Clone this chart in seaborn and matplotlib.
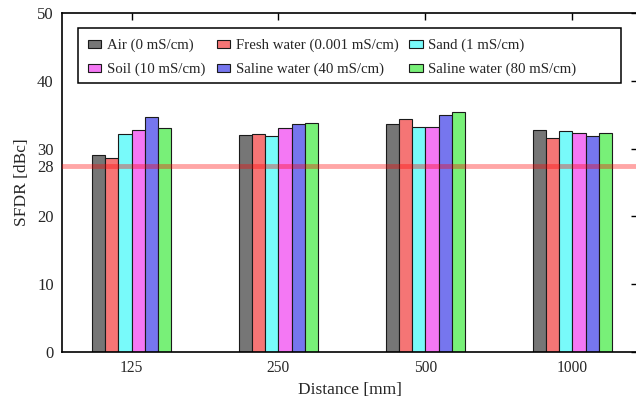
import numpy as np
import pandas as pd
import matplotlib
matplotlib.use("Agg")
import matplotlib.pyplot as plt
import seaborn as sns
from matplotlib.patches import Rectangle

# ---- data ----
distances = ["125", "250", "500", "1000"]
materials = ["Air (0 mS/cm)", "Fresh water (0.001 mS/cm)", "Sand (1 mS/cm)",
             "Soil (10 mS/cm)", "Saline water (40 mS/cm)", "Saline water (80 mS/cm)"]
air = [29.0, 32.0, 33.7, 32.7]
fresh_water = [28.6, 32.1, 34.3, 31.5]
sand = [32.1, 31.9, 33.2, 32.6]
soil = [32.8, 33.1, 33.2, 32.3]
saline_40 = [34.6, 33.6, 34.9, 31.8]
saline_80 = [33.1, 33.8, 35.4, 32.3]
# threshold line as drawn in the picture (labelled "28")
threshold = 27.4
y_ticks = [0, 10, 20, threshold, 30, 40, 50]
y_tick_labels = ["0", "10", "20", "28", "30", "40", "50"]

colors = ["#767676", "#f57575", "#78fafa", "#f478f4", "#7676ee", "#78f078"]

series = [air, fresh_water, sand, soil, saline_40, saline_80]
rows = []
for m, vals in zip(materials, series):
    for d, v in zip(distances, vals):
        rows.append({"Distance": d, "Material": m, "SFDR": v})
df = pd.DataFrame(rows)

sns.set_theme(style="white")
plt.rcParams["font.family"] = ["Liberation Serif", "DejaVu Serif"]

fig = plt.figure(figsize=(6.36, 3.98), dpi=100)
W, H = 636, 398
ax = fig.add_axes([62 / W, 1 - 352 / H, 576 / W, 339 / H])

sns.barplot(data=df, x="Distance", y="SFDR", hue="Material", order=distances,
            hue_order=materials, palette=colors, width=0.537, gap=0,
            edgecolor="#1a1a1a", linewidth=0.8, saturation=1, ax=ax, legend=True)

leg = ax.get_legend()
handles = list(leg.legend_handles)
labels = [t.get_text() for t in leg.get_texts()]
leg.remove()
order = [0, 3, 1, 4, 2, 5]
for h in handles:
    h.set_edgecolor("#1a1a1a")
    h.set_linewidth(0.8)
lg = ax.legend([handles[i] for i in order], [labels[i] for i in order],
               ncol=3, loc="upper left", bbox_to_anchor=(88 / W, 1 - 39 / H),
               bbox_transform=fig.transFigure, frameon=False, fontsize=10.7,
               handlelength=0.88, handleheight=0.42, handletextpad=0.4,
               columnspacing=0.75, labelspacing=0.7, borderpad=0.0, borderaxespad=0)

# legend frame box
fig.add_artist(Rectangle((78 / W, 1 - 83 / H), 543 / W, 55 / H, transform=fig.transFigure,
                         fill=False, edgecolor="black", linewidth=1.1, zorder=5))

ax.axhline(threshold, color="red", alpha=0.35, linewidth=3.5, zorder=4)

ax.set_xlim(-0.473, 3.446)
ax.set_ylim(0, 50)
ax.set_yticks(y_ticks)
ax.set_yticklabels(y_tick_labels)
ax.set_xlabel("Distance [mm]", fontsize=12.5, labelpad=4)
ax.set_ylabel("SFDR [dBc]", fontsize=12.5, labelpad=5)

ax.tick_params(axis="both", direction="in", length=5, width=1.0, color="black",
               pad=6, top=True, right=True)
ax.tick_params(axis="x", bottom=False, top=True, labelsize=11.2)
ax.tick_params(axis="y", labelsize=12)
for i, t in enumerate(ax.yaxis.get_major_ticks()):
    if y_tick_labels[i] == "28":
        t.tick1line.set_visible(False)
        t.tick2line.set_visible(False)

for s in ax.spines.values():
    s.set_color("black")
    s.set_linewidth(1.2)

fig.savefig("out.png", dpi=100)
